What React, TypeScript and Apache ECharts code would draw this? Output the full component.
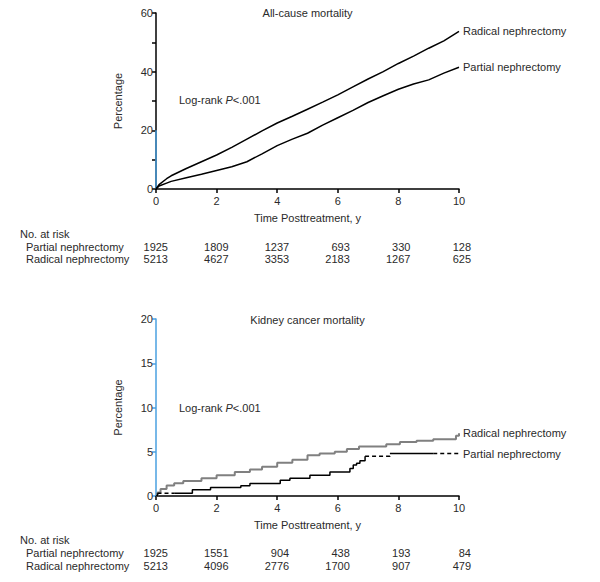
import React, { useEffect, useRef } from "react";
import * as echarts from "echarts";

// ---------- data ----------
const xTicks = [0, 2, 4, 6, 8, 10];

// All-cause mortality (%)
const acRadicalT = [0, 0.1, 0.35, 0.5, 1, 1.5, 2, 2.5, 3, 3.5, 4, 4.5, 5, 5.5, 6, 6.5, 7, 7.5, 8, 8.5, 9, 9.5, 10];
const acRadicalV = [0, 1.5, 3.5, 4.5, 7, 9.3, 11.6, 14.2, 17, 19.8, 22.5, 24.8, 27.2, 29.6, 32.1, 34.8, 37.5, 40, 42.8, 45.3, 48, 50.5, 53.7];
const acPartialT = [0, 0.1, 0.35, 0.5, 1, 1.5, 2, 2.5, 3, 3.5, 4, 4.5, 5, 5.5, 6, 6.5, 7, 7.5, 8, 8.5, 9, 9.5, 10];
const acPartialV = [0, 1, 2, 2.6, 3.8, 5, 6.3, 7.6, 9.3, 12, 14.8, 17, 19, 21.8, 24.3, 26.8, 29.5, 31.8, 34, 35.8, 37.2, 39.5, 41.5];

// Kidney cancer mortality (%), step curves
const kcRadicalT = [0, 0.05, 0.15, 0.35, 0.6, 0.9, 1.5, 2.0, 2.6, 3.1, 3.5, 4.0, 4.5, 5.0, 5.4, 5.9, 6.3, 6.7, 7.6, 8.05, 8.6, 9.15, 9.9, 10];
const kcRadicalV = [0, 0.4, 0.8, 1.2, 1.45, 1.7, 2.0, 2.35, 2.7, 3.0, 3.3, 3.75, 4.1, 4.6, 4.8, 5.0, 5.3, 5.6, 5.86, 6.1, 6.25, 6.4, 6.8, 7.1];
const kcPartialT = [0, 0.05, 0.6, 1.2, 1.8, 2.8, 3.1, 3.9, 4.1, 4.42, 5.08, 5.74, 6.4, 6.51, 6.62, 6.73, 6.9, 7.72, 9.15, 10];
const kcPartialV = [0, 0.3, 0.3, 0.72, 0.95, 1.15, 1.4, 1.4, 1.78, 2.0, 2.35, 2.7, 3.1, 3.5, 3.7, 3.97, 4.5, 4.8, 4.8, 4.8];
const kcPartialDashed = [[0.05, 0.6], [6.9, 7.72], [9.15, 10]];

// Numbers at risk
const riskGroups = ["Partial nephrectomy", "Radical nephrectomy"];
const acRiskPartial = [1925, 1809, 1237, 693, 330, 128];
const acRiskRadical = [5213, 4627, 3353, 2183, 1267, 625];
const kcRiskPartial = [1925, 1551, 904, 438, 193, 84];
const kcRiskRadical = [5213, 4096, 2776, 1700, 907, 479];

const panelTitles = ["All-cause mortality", "Kidney cancer mortality"];

// ---------- styles ----------
const FONT = '"Liberation Sans", Arial, sans-serif';
const TXT = "#2a2a2a";
const BLUE = "#4aa0e0";
const FS = 11;

function zip(t: number[], v: number[]) {
  return t.map((x, i) => [x, v[i]]);
}

function splitSegments(t: number[], v: number[], dashed: number[][]) {
  const isDashed = (a: number, b: number) => dashed.some(([s, e]) => a >= s - 1e-9 && b <= e + 1e-9);
  const segs: { dashed: boolean; data: number[][] }[] = [];
  for (let i = 0; i < t.length - 1; i++) {
    const d = isDashed(t[i], t[i + 1]);
    const last = segs[segs.length - 1];
    if (last && last.dashed === d) {
      last.data.push([t[i + 1], v[i + 1]]);
    } else {
      segs.push({ dashed: d, data: [[t[i], v[i]], [t[i + 1], v[i + 1]]] });
    }
  }
  return segs;
}

function makeAxes(gi: number, max: number, interval: number, labelEvery: number, axisColor: string) {
  const x = {
    type: "value",
    gridIndex: gi,
    min: 0,
    max: 10,
    interval: 2,
    name: "Time Posttreatment, y",
    nameLocation: "middle",
    nameGap: 23,
    nameTextStyle: { fontFamily: FONT, fontSize: FS, color: TXT },
    axisLine: { show: true, onZero: false, lineStyle: { color: "#000", width: 1.5 } },
    axisTick: { show: true, length: 4, lineStyle: { color: "#000", width: 1.5 } },
    axisLabel: { fontFamily: FONT, fontSize: FS, color: TXT, margin: 6 },
    splitLine: { show: false },
  };
  const y = {
    type: "value",
    gridIndex: gi,
    min: 0,
    max,
    interval,
    name: "Percentage",
    nameLocation: "middle",
    nameGap: 33,
    nameRotate: 90,
    nameTextStyle: { fontFamily: FONT, fontSize: FS, color: TXT },
    axisLine: { show: true, lineStyle: { color: axisColor, width: 1.5 } },
    axisTick: { show: true, length: 4, lineStyle: { color: axisColor, width: 1.5 } },
    axisLabel: {
      fontFamily: FONT,
      fontSize: FS,
      color: TXT,
      margin: 3,
      formatter: (val: number) => (val % labelEvery === 0 ? String(val) : ""),
    },
    splitLine: { show: false },
  };
  return { x, y };
}

export default function App() {
  const ref = useRef<HTMLDivElement>(null);

  useEffect(() => {
    if (!ref.current) return;
    const chart = echarts.init(ref.current, null, { renderer: "svg" });

    const a0 = makeAxes(0, 60, 10, 20, "#000");
    const a1 = makeAxes(1, 20, 5, 5, BLUE);

    const endLabel = (name: string) => ({
      show: true,
      formatter: name,
      distance: 4,
      fontFamily: FONT,
      fontSize: FS,
      color: TXT,
    });

    const series: any[] = [
      {
        type: "line",
        name: "Radical nephrectomy",
        xAxisIndex: 0,
        yAxisIndex: 0,
        data: zip(acRadicalT, acRadicalV),
        symbol: "none",
        lineStyle: { color: "#000", width: 1.5 },
        endLabel: endLabel("Radical nephrectomy"),
      },
      {
        type: "line",
        name: "Partial nephrectomy",
        xAxisIndex: 0,
        yAxisIndex: 0,
        data: zip(acPartialT, acPartialV),
        symbol: "none",
        lineStyle: { color: "#000", width: 1.5 },
        endLabel: endLabel("Partial nephrectomy"),
      },
      {
        type: "line",
        name: "axis-highlight",
        xAxisIndex: 0,
        yAxisIndex: 0,
        data: [[0, 0], [0, 20]],
        symbol: "none",
        clip: false,
        silent: true,
        lineStyle: { color: BLUE, width: 1.5 },
        z: 1,
      },
      {
        type: "line",
        name: "Radical nephrectomy",
        xAxisIndex: 1,
        yAxisIndex: 1,
        data: zip(kcRadicalT, kcRadicalV),
        step: "end",
        symbol: "none",
        lineStyle: { color: "#808080", width: 2 },
        endLabel: endLabel("Radical nephrectomy"),
      },
    ];

    const segs = splitSegments(kcPartialT, kcPartialV, kcPartialDashed);
    segs.forEach((s, i) => {
      series.push({
        type: "line",
        name: "Partial nephrectomy",
        xAxisIndex: 1,
        yAxisIndex: 1,
        data: s.data,
        step: "end",
        symbol: "none",
        lineStyle: { color: "#000", width: 1.5, type: s.dashed ? [4, 3] : "solid" },
        endLabel: i === segs.length - 1 ? endLabel("Partial nephrectomy") : { show: false },
      });
    });

    chart.setOption({
      animation: false,
      backgroundColor: "#fff",
      grid: [
        { left: 156, top: 13, width: 303, height: 176 },
        { left: 156, top: 319, width: 303, height: 177 },
      ],
      xAxis: [a0.x, a1.x],
      yAxis: [a0.y, a1.y],
      series,
    });

    // texts positioned through the axes' scales
    const textStyle = (text: string, align: string) => ({
      text,
      fontFamily: FONT,
      fontSize: FS,
      fill: TXT,
      align,
      verticalAlign: "middle",
    });
    const graphics: any[] = [];
    const panels = [
      { gi: 0, risk: [acRiskPartial, acRiskRadical], titleY: 13, logY: 100, headY: 234, rowY: [247, 259] },
      { gi: 1, risk: [kcRiskPartial, kcRiskRadical], titleY: 320, logY: 408, headY: 540, rowY: [553, 566] },
    ];
    panels.forEach((p, pi) => {
      const xMid = chart.convertToPixel({ xAxisIndex: p.gi }, 5) as number;
      graphics.push({ type: "text", x: xMid, y: p.titleY, style: textStyle(panelTitles[pi], "center") });
      graphics.push({
        type: "text",
        x: 179,
        y: p.logY,
        style: {
          text: "{a|Log-rank }{b|P}{a|<.001}",
          verticalAlign: "middle",
          align: "left",
          rich: {
            a: { fontFamily: FONT, fontSize: FS, fill: TXT, color: TXT },
            b: { fontFamily: FONT, fontSize: FS, fontStyle: "italic", fill: TXT, color: TXT },
          },
        },
      });
      graphics.push({ type: "text", x: 20, y: p.headY, style: textStyle("No. at risk", "left") });
      riskGroups.forEach((g, ri) => {
        graphics.push({ type: "text", x: 26, y: p.rowY[ri], style: textStyle(g, "left") });
        p.risk[ri].forEach((n, k) => {
          const px = chart.convertToPixel({ xAxisIndex: p.gi }, xTicks[k]) as number;
          graphics.push({ type: "text", x: px + 12, y: p.rowY[ri], style: textStyle(String(n), "right") });
        });
      });
    });
    chart.setOption({ graphic: graphics });

    return () => chart.dispose();
  }, []);

  return (
    <div
      ref={ref}
      style={{ position: "absolute", left: 0, top: 0, width: 600, height: 582, background: "#fff" }}
    />
  );
}
